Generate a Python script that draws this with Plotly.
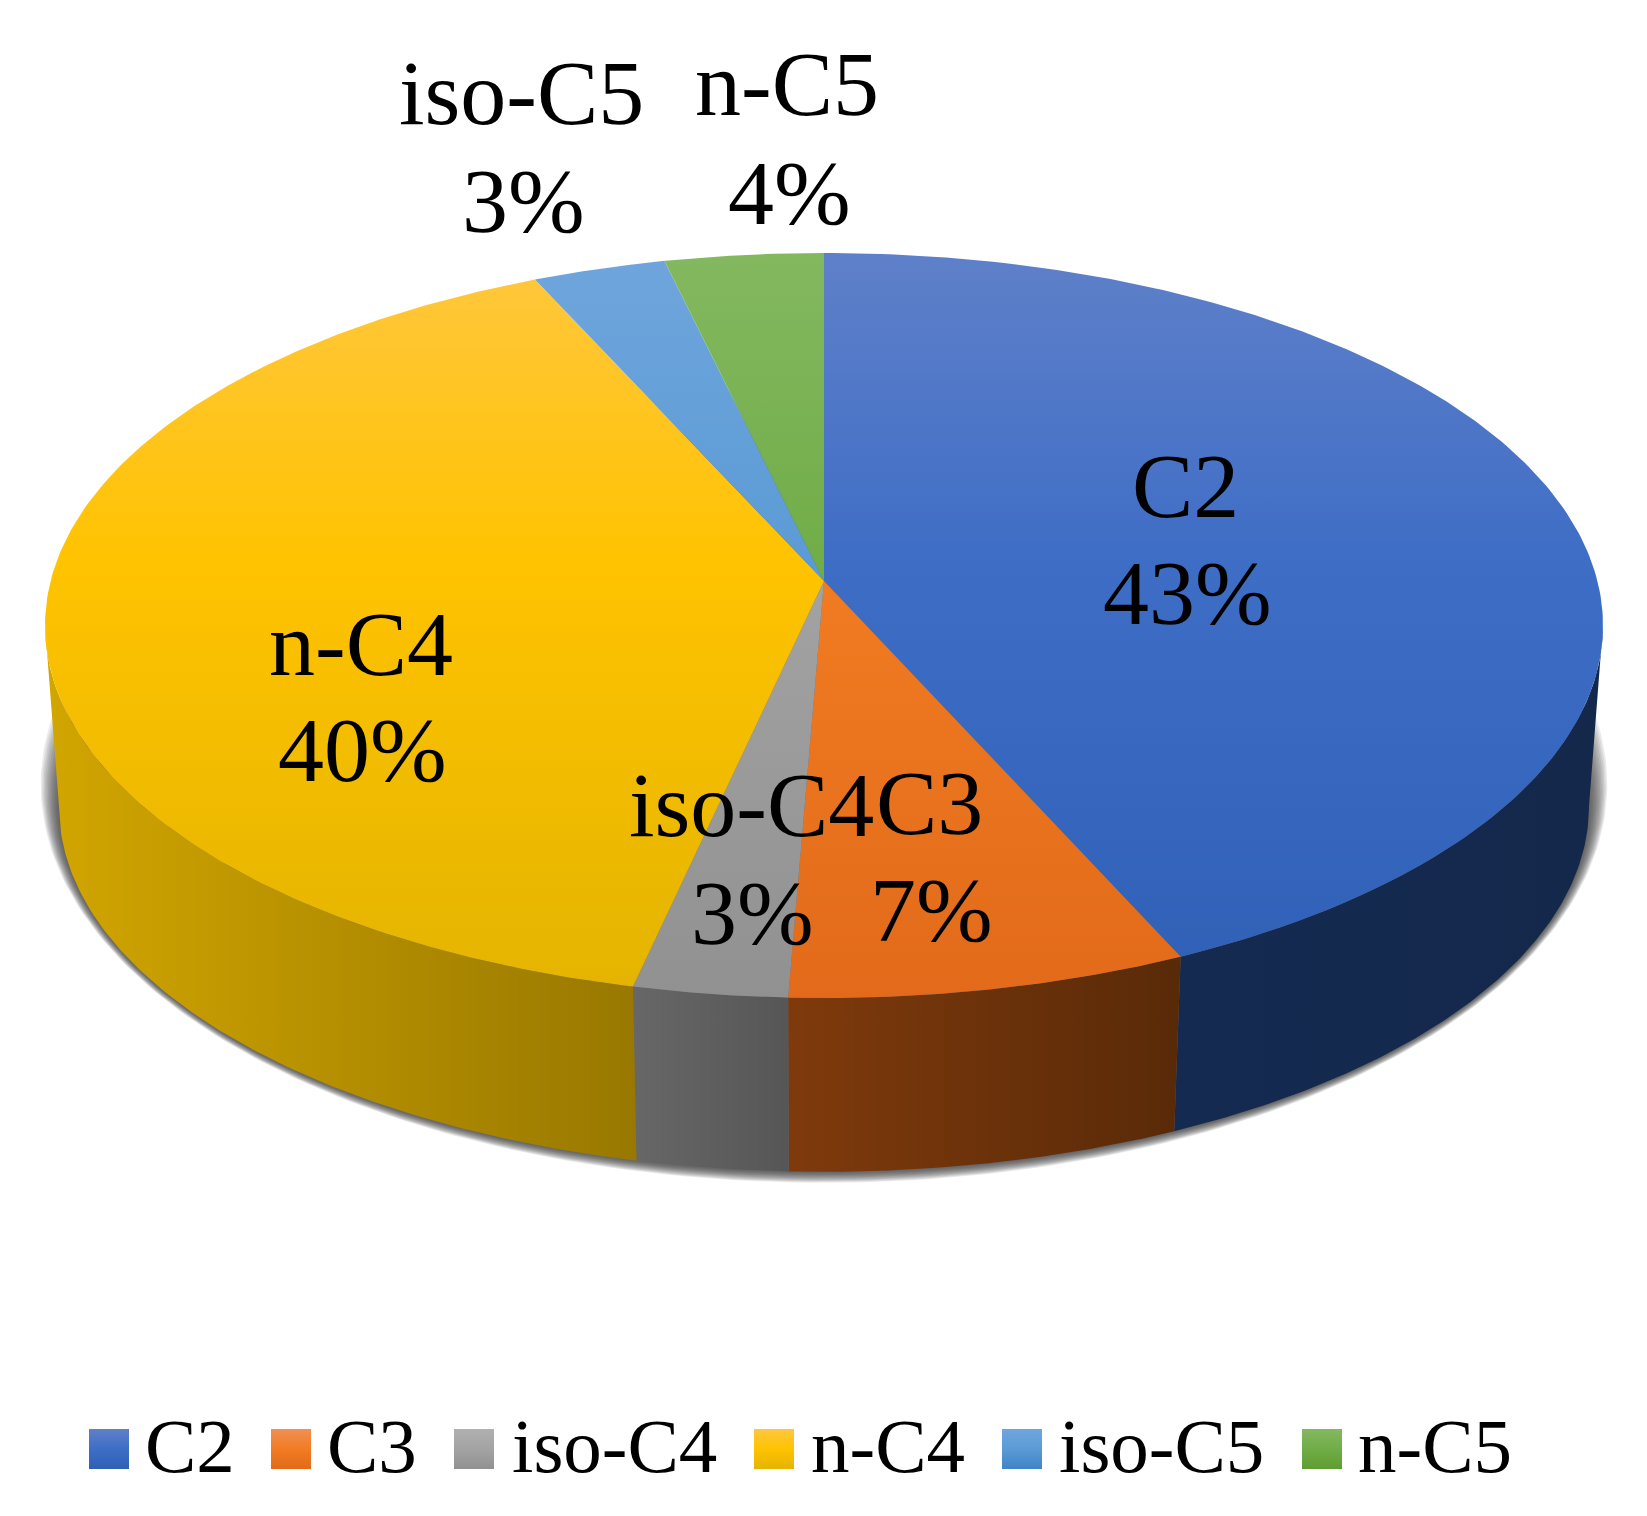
import numpy as np
import plotly.graph_objects as go

# values
names = ["C2", "C3", "iso-C4", "n-C4", "iso-C5", "n-C5"]
shares = [43.26, 7.39, 2.85, 39.7, 3.1, 3.7]
percent_labels = ["43%", "7%", "3%", "40%", "3%", "4%"]

top_colors = [
    ["#5F80C9", "#3E6DC6", "#2F60B6"],
    ["#F28F55", "#F17C22", "#E26A1A"],
    ["#B0B0B0", "#A3A3A3", "#919191"],
    ["#FFC740", "#FFC300", "#E3B400"],
    ["#6FA5DC", "#5B9BD5", "#3F84C8"],
    ["#84B860", "#70AD47", "#5F9C32"],
]
wall_colors = [
    ["#152A50", "#14284C"],
    ["#7F3A0C", "#592A08"],
    ["#676767", "#565656"],
    ["#D2A600", "#987800"],
    ["#2E6496", "#2E6496"],
    ["#43682A", "#43682A"],
]

# label placement: centre x, name baseline, percent centre x, percent baseline
label_pos = [
    (1185, 517, 1187, 624),
    (929, 834, 931, 941),
    (751, 836, 752, 944),
    (361, 675, 362, 781),
    (521, 124, 523, 232),
    (787, 115, 789, 224),
]
legend_swatch_x = [89, 271, 454, 754, 1002, 1302]
legend_text_x = [145, 327, 512, 811, 1059, 1358]

W, H = 1647, 1516
LABEL_FONT = 92
LEGEND_FONT = 77

# perspective of the pie: top face and bottom face
CX = 824
K = 0.1194
TOP = dict(cy=581, a=773.4, b=367.2)
BOTTOM = dict(cy=763, a=759.5, b=360.0)
TANGENT = np.degrees(np.arccos(-K))


def rim(angles, disc, grow_x=0, grow_y=0, lift=0):
    t = np.radians(angles)
    d = 1 + K * np.cos(t)
    x = CX + (disc["a"] + grow_x) * np.sin(t) / d
    y = disc["cy"] - lift - (disc["b"] + grow_y) * np.cos(t) / d
    return x, y


def filled(xs, ys, **kw):
    return go.Scatter(x=xs, y=ys, mode="lines", line=dict(width=0), fill="toself", hoverinfo="skip", **kw)


edges = np.cumsum([0] + shares) / sum(shares) * 360
fig = go.Figure()

# soft shadow under the pie
all_angles = np.linspace(0, 360, 361)
for grow in np.arange(26, 0, -2):
    sx, sy = rim(all_angles, BOTTOM, grow * 0.7, grow * 1.25, grow)
    fig.add_trace(filled(sx, sy, fillcolor="rgba(55,55,55,0.10)"))

# side walls, only the visible part
for i in range(len(names)):
    a0 = max(edges[i], TANGENT)
    a1 = min(edges[i + 1], 360 - TANGENT)
    if a1 <= a0:
        continue
    arc = np.linspace(a0, a1, 120)
    tx, ty = rim(arc, TOP)
    bx, by = rim(arc[::-1], BOTTOM)
    xs = np.concatenate([tx, bx, tx[:1]])
    ys = np.concatenate([ty, by, ty[:1]])
    fig.add_trace(filled(xs, ys, fillgradient=dict(
        type="horizontal", start=float(xs.min()), stop=float(xs.max()),
        colorscale=[[0, wall_colors[i][0]], [1, wall_colors[i][1]]])))

# top face
for i in range(len(names)):
    arc = np.linspace(edges[i], edges[i + 1], 200)
    tx, ty = rim(arc, TOP)
    xs = np.concatenate([[CX], tx, [CX]])
    ys = np.concatenate([[TOP["cy"]], ty, [TOP["cy"]]])
    c = top_colors[i]
    fig.add_trace(filled(xs, ys, name=names[i], fillgradient=dict(
        type="vertical", start=253, stop=998,
        colorscale=[[0, c[0]], [0.42, c[1]], [1, c[2]]])))

# legend swatches
for i in range(len(names)):
    x0 = legend_swatch_x[i]
    c = top_colors[i]
    fig.add_trace(filled([x0, x0 + 40, x0 + 40, x0, x0], [1429, 1429, 1469, 1469, 1429], fillgradient=dict(
        type="vertical", start=1429, stop=1469,
        colorscale=[[0, c[0]], [0.5, c[1]], [1, c[2]]])))


def add_text(x, baseline, text, size, anchor="center"):
    fig.add_annotation(x=x, y=baseline + 0.216 * size, text=text, xref="x", yref="y", showarrow=False,
                       xanchor=anchor, yanchor="bottom", borderpad=0, borderwidth=0,
                       font=dict(family="Liberation Serif", size=size, color="black"))


for i in range(len(names)):
    x1, y1, x2, y2 = label_pos[i]
    add_text(x1, y1, names[i], LABEL_FONT)
    add_text(x2, y2, percent_labels[i], LABEL_FONT)
    add_text(legend_text_x[i], 1472, names[i], LEGEND_FONT, "left")

fig.update_layout(
    width=W, height=H, autosize=False, showlegend=False,
    margin=dict(l=0, r=0, t=0, b=0),
    paper_bgcolor="white", plot_bgcolor="white",
    xaxis=dict(range=[0, W], visible=False, fixedrange=True),
    yaxis=dict(range=[H, 0], visible=False, fixedrange=True),
)

# page margin would push the plot 8px off
fig.write_html("out.html", config={"displayModeBar": False}, post_script="document.body.style.margin='0';")
